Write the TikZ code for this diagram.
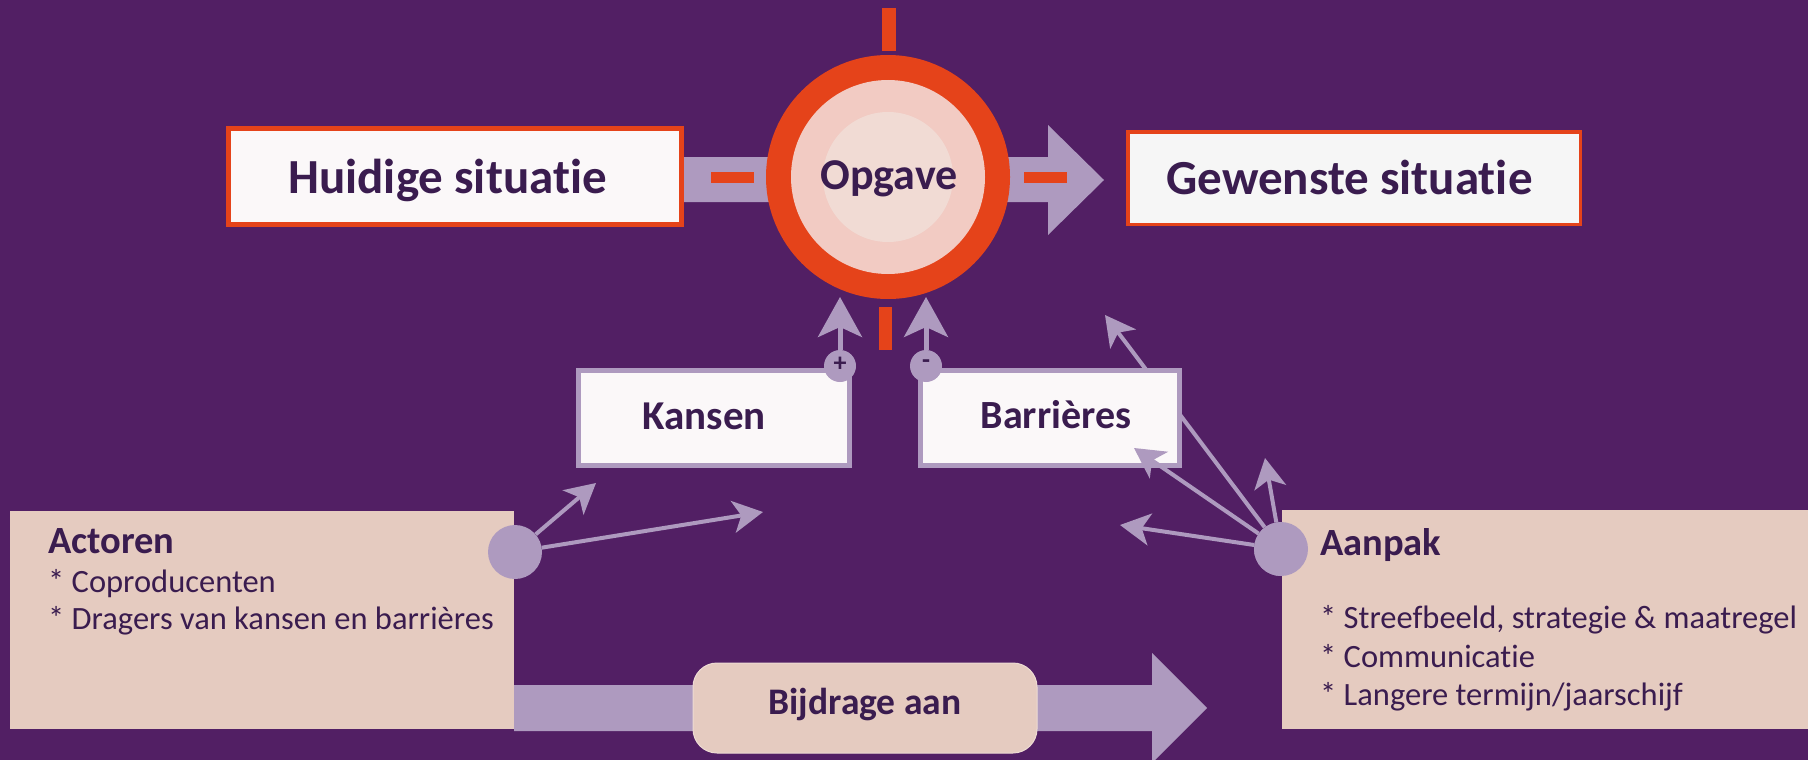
\documentclass[tikz,border=0pt]{standalone}
\usepackage{fontspec}
\setmainfont{Carlito}[Ligatures={NoCommon}]
\usetikzlibrary{arrows.meta}
\definecolor{bg}{HTML}{521F64}
\definecolor{accent}{HTML}{E5431A}
\definecolor{lav}{HTML}{AE9ABF}
\definecolor{ringpink}{HTML}{F2CBC3}
\definecolor{corepink}{HTML}{F1DBD4}
\definecolor{beige}{HTML}{E5CBC0}
\definecolor{ink}{HTML}{3A1C4F}
\definecolor{paper}{HTML}{FBF8F9}
\definecolor{paper2}{HTML}{F6F6F6}
\begin{document}
\begin{tikzpicture}[x=1pt,y=-1pt,
  txt/.style={text=ink, inner sep=0pt},
  redbox/.style={draw=accent, fill=paper, inner sep=0pt},
  lavbox/.style={draw=lav, line width=5pt, fill=paper, inner sep=0pt},
  beigebox/.style={fill=beige, inner sep=0pt},
  dot/.style={circle, fill=lav, inner sep=0pt},
  thinarrow/.style={draw=lav, line width=4pt, -{Stealth[length=30pt,width=32pt,inset=8pt]}},
  bigup/.style={draw=lav, line width=5pt, -{Stealth[length=40pt,width=44pt,inset=10pt]}},
  tick/.style={fill=accent}
]
\useasboundingbox (0,0) rectangle (1808,760);
\clip (0,0) rectangle (1808,760);
\fill[bg] (0,0) rectangle (1808,760);

% upper broad arrow
\fill[lav] (684,157) -- (1048,157) -- (1048,125) -- (1104,180) -- (1048,235) -- (1048,202) -- (684,202) -- cycle;
% lower broad arrow
\fill[lav] (514,685) -- (1152,685) -- (1152,653) -- (1207,708) -- (1152,763) -- (1152,731) -- (514,731) -- cycle;

% Opgave circle
\node[circle, fill=accent, minimum size=244pt, inner sep=0pt] (opgave) at (888,177) {};
\node[circle, fill=ringpink, minimum size=194pt, inner sep=0pt] (opgavering) at (888,177) {};
\node[circle, fill=corepink, minimum size=130pt, inner sep=0pt] (opgavecore) at (888,177) {};
\node[txt, anchor=base, font=\fontsize{44}{48}\selectfont\bfseries] (opgavetxt) at (889,189) {Opgave};

% ticks
\fill[tick] (882,8) rectangle (896,51);
\fill[tick] (879,307) rectangle (892,350);
\fill[tick] (711,172) rectangle (754,183);
\fill[tick] (1024,172) rectangle (1067,183);

% top boxes
\node[redbox, line width=5pt, minimum width=453pt, minimum height=96pt] (huidige) at (455,176.5) {};
\node[txt, anchor=base, font=\fontsize{49}{52}\selectfont\bfseries] (huidigetxt) at (447.5,193) {Huidige situatie};
\node[redbox, fill=paper2, line width=3.5pt, minimum width=452.5pt, minimum height=92.5pt] (gewenste) at (1354,178) {};
\node[txt, anchor=base, font=\fontsize{49}{52}\selectfont\bfseries] (gewenstetxt) at (1349.5,194) {Gewenste situatie};

% Aanpak dot and the arrow passing behind Barrieres
\node[dot, minimum size=54pt] (aanpakdot) at (1281,549) {};
\coordinate (a1) at (1105,315);
\coordinate (a2) at (1134,448);
\coordinate (a3) at (1265,458);
\coordinate (a4) at (1120,525);
\draw[thinarrow] (aanpakdot) -- (a1);

% Kansen / Barrieres
\node[lavbox, minimum width=271pt, minimum height=95pt] (kansen) at (714,418) {};
\node[txt, anchor=base, font=\fontsize{41}{44}\selectfont\bfseries] (kansentxt) at (704,429) {Kansen};
\node[lavbox, minimum width=259pt, minimum height=95pt] (barrieres) at (1050,418) {};
\node[txt, anchor=base, font=\fontsize{40}{44}\selectfont\bfseries] (barrierestxt) at (1056,428) {Barrières};

% plus / minus
\node[dot, minimum size=32pt] (plus) at (840,366) {};
\node[dot, minimum size=32pt] (minus) at (926,366) {};
\node[txt, font=\fontsize{26}{28}\selectfont\bfseries] (plustxt) at (840,364) {+};
\node[txt, font=\fontsize{26}{28}\selectfont\bfseries] (minustxt) at (926,364) {-};
\coordinate (plustip) at (840,297);
\coordinate (minustip) at (926,297);
\draw[bigup] (plus.north) -- (plustip);
\draw[bigup] (minus.north) -- (minustip);

% bottom boxes
\node[beigebox, minimum width=504pt, minimum height=218pt] (actoren) at (262,620) {};
\node[beigebox, minimum width=526pt, minimum height=219pt] (aanpak) at (1545,619.5) {};
\node[beigebox, draw=beige!70!white, line width=1pt, rounded corners=24pt, minimum width=344pt, minimum height=90pt] (bijdrage) at (865,708) {};
\node[txt, anchor=base, font=\fontsize{37.5}{40}\selectfont\bfseries] (bijdragetxt) at (865,714) {Bijdrage aan};

% Actoren text
\node[txt, anchor=base west, font=\fontsize{38.5}{42}\selectfont\bfseries] (actorentitle) at (48,553) {Actoren};
\node[txt, anchor=base west, font=\fontsize{32.5}{38}\selectfont] (act1) at (48,592) {* Coproducenten};
\node[txt, anchor=base west, font=\fontsize{32.5}{38}\selectfont] (act2) at (48,629) {* Dragers van kansen en barrières};

% Aanpak text
\node[txt, anchor=base west, font=\fontsize{38.5}{42}\selectfont\bfseries] (aanpaktitle) at (1320,555) {Aanpak};
\node[txt, anchor=base west, font=\fontsize{32.5}{38}\selectfont] (aan1) at (1320,628) {* Streefbeeld, strategie \& maatregel};
\node[txt, anchor=base west, font=\fontsize{32.5}{38}\selectfont] (aan2) at (1320,667) {* Communicatie};
\node[txt, anchor=base west, font=\fontsize{32.5}{38}\selectfont] (aan3) at (1320,705) {* Langere termijn/jaarschijf};

% Aanpak arrows (over boxes)
\draw[thinarrow] (aanpakdot) -- (a2);
\draw[thinarrow] (aanpakdot) -- (a3);
\draw[thinarrow] (aanpakdot) -- (a4);
\node[dot, minimum size=54pt] (aanpakdot2) at (aanpakdot) {};

% Actoren arrows
\node[dot, minimum size=54pt] (actorendot) at (515,552) {};
\coordinate (k1) at (596,483);
\coordinate (k2) at (763,512);
\draw[thinarrow] (actorendot) -- (k1);
\draw[thinarrow] (actorendot) -- (k2);
\end{tikzpicture}
\end{document}
